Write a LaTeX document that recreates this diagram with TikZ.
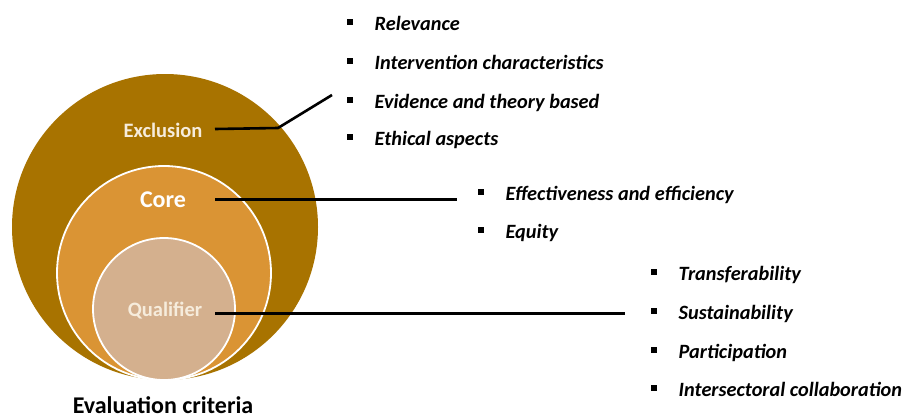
\documentclass[tikz,border=0pt]{standalone}
\usepackage{fontspec}
\setmainfont{Carlito}
\usetikzlibrary{calc}
\definecolor{exclcol}{HTML}{A87300}
\definecolor{corecol}{HTML}{DA9434}
\definecolor{qualcol}{HTML}{D4B08E}
\definecolor{lblcol}{HTML}{F6ECDC}
\newcommand{\blt}{\raisebox{5pt}{\rule{5.5pt}{6pt}}\hspace{22pt}}
\begin{document}
\begin{tikzpicture}[x=1pt,y=-1pt,
  ringlbl/.style={text=lblcol, inner sep=0pt},
  item/.style={anchor=base west, inner sep=0pt, font=\fontsize{20.3}{22}\selectfont\bfseries\itshape},
  link/.style={line width=3pt, black},
]
\useasboundingbox[fill=white] (0,0) rectangle (908,418);

% nested criteria rings
\fill[exclcol] (165,227) circle[radius=153pt];
\draw[fill=corecol, draw=white, line width=1.8pt] (164,273) circle[radius=107pt];
\draw[fill=qualcol, draw=white, line width=1.8pt] (164,309) circle[radius=71pt];

\node[ringlbl, font=\fontsize{20.5}{22}\selectfont\bfseries] (excl) at (163,130) {Exclusion};
\node[ringlbl, font=\fontsize{24}{26}\selectfont\bfseries, text=white] (core) at (163,200) {Core};
\node[ringlbl, font=\fontsize{20.5}{22}\selectfont\bfseries] (qual) at (165,311) {Qualifier};

\node[anchor=base, inner sep=0pt, font=\fontsize{24}{26}\selectfont\bfseries] (title) at (163,413) {Evaluation criteria};

% exclusion criteria
\node[item] (rel) at (347,30)  {\blt Relevance};
\node[item] (int) at (347,69)  {\blt Intervention characteristics};
\node[item] (evi) at (347,108) {\blt Evidence and theory based};
\node[item] (eth) at (347,145) {\blt Ethical aspects};

% core criteria
\node[item] (eff) at (478,200) {\blt Effectiveness and efficiency};
\node[item] (equ) at (478,238) {\blt Equity};

% qualifier criteria
\node[item] (tra) at (651,280) {\blt Transferability};
\node[item] (sus) at (651,319) {\blt Sustainability};
\node[item] (par) at (651,358) {\blt Participation};
\node[item] (ics) at (651,396) {\blt Intersectoral collaboration};

% connectors
\coordinate (exclA) at (215,129);
\coordinate (exclB) at (278,128);
\coordinate (exclC) at ($(evi.base west)+(-15,-13)$);
\draw[link, line width=2.6pt] (exclA) -- (exclB) -- (exclC);

\coordinate (coreA) at (215,199);
\coordinate (coreB) at ($(eff.base west)+(-21,-1)$);
\draw[link] (coreA) -- (coreB);

\coordinate (qualA) at (215,313);
\coordinate (qualB) at ($(sus.base west)+(-26,-6)$);
\draw[link] (qualA) -- (qualB);
\end{tikzpicture}
\end{document}
